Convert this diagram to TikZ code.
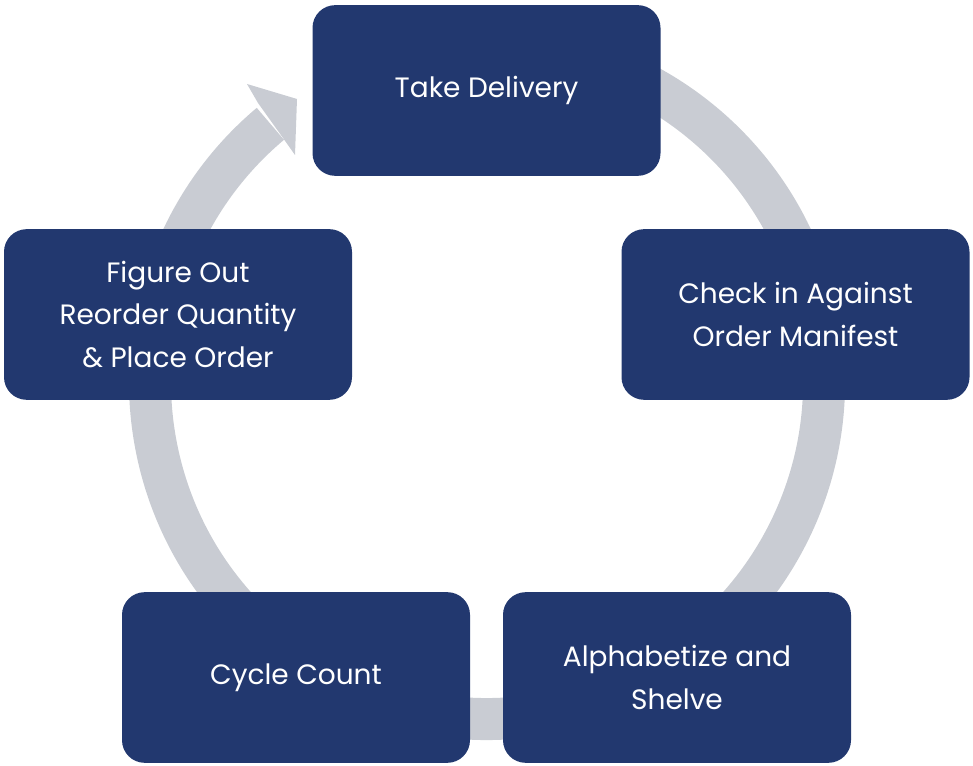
\documentclass[tikz,border=0pt]{standalone}
\usepackage{fontspec}
\setmainfont{Poppins}
\definecolor{boxblue}{HTML}{22386F}
\definecolor{ringgray}{HTML}{C9CCD3}
\begin{document}
\begin{tikzpicture}[x=0.75pt,y=0.75pt,
  box/.style={fill=boxblue,rounded corners=17pt,minimum width=261pt,minimum height=128pt,
    text=white,align=center,font=\fontsize{21}{32}\selectfont,inner sep=0pt}]
\useasboundingbox (0,0) rectangle (973,766);
\draw[ringgray,line width=31.5pt] (487,384)+(460:337) arc[start angle=460,end angle=130,radius=337];
\fill[ringgray] (247,682) -- (297,667) -- (295,611) -- (283,628) -- (258,663) -- cycle;
\node[box] (a) at (486.5,675.5) {Take Delivery};
\node[box] (b) at (795.5,451.5) {Check in Against\\Order Manifest};
\node[box] (c) at (677,88.5) {Alphabetize and\\Shelve};
\node[box] (d) at (296,88.5) {Cycle Count};
\node[box] (e) at (178,451.5) {Figure Out\\Reorder Quantity\\\& Place Order};
\end{tikzpicture}
\end{document}
